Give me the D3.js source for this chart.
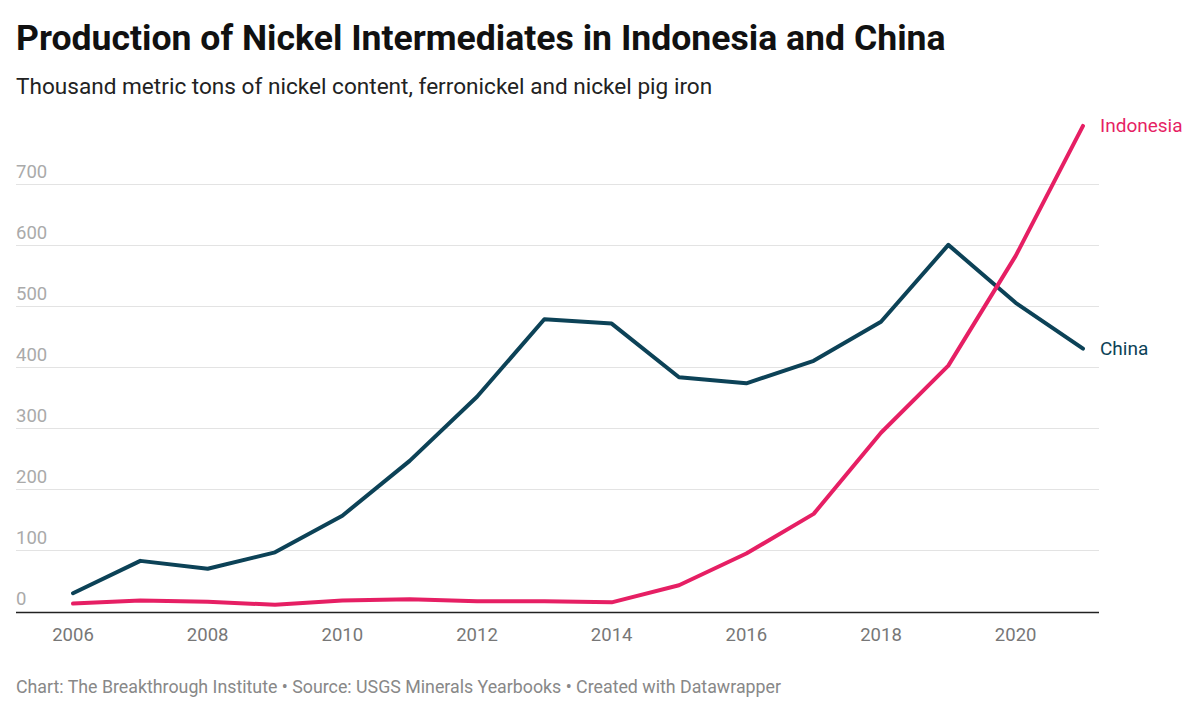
<!DOCTYPE html>
<html><head><meta charset="utf-8">
<script src="https://cdn.jsdelivr.net/npm/d3@7"></script>
<style>
body{margin:0;background:#fff;font-family:Roboto,"Noto Sans",sans-serif;}
</style></head>
<body><svg id="c" width="1200" height="715"></svg>
<script>
const years = [2006,2007,2008,2009,2010,2011,2012,2013,2014,2015,2016,2017,2018,2019,2020,2021];
const china = [30,83,70,97,157,247,352,479,472,384,374,411,475,601,506,431];
const indonesia = [13,18,16,11,18,20,17,17,15,43,95,160,293,403,583,796];
const yTicks = [0,100,200,300,400,500,600,700];
const xTicks = [2006,2008,2010,2012,2014,2016,2018,2020];
const series = [
  {name:"Indonesia", values: indonesia, color:"#e61f64"},
  {name:"China", values: china, color:"#0c4257"}
];

const svg = d3.select("#c");
const x = d3.scaleLinear().domain([2006,2021]).range([73,1083]);
const y = d3.scaleLinear().domain([0,700]).range([611.5,184.5]);
const left = 16, right = 1099;

svg.append("text").attr("x",16).attr("y",50).attr("font-size",35.6).attr("font-weight",700)
  .attr("fill","#111").text("Production of Nickel Intermediates in Indonesia and China");
svg.append("text").attr("x",16).attr("y",94).attr("font-size",22.6).attr("fill","#222")
  .text("Thousand metric tons of nickel content, ferronickel and nickel pig iron");

const g = svg.append("g");
g.selectAll(".grid").data(yTicks.filter(d=>d>0)).join("line")
  .attr("x1",left).attr("x2",right).attr("y1",d=>y(d)).attr("y2",d=>y(d))
  .attr("stroke","#e3e3e3").attr("stroke-width",1);
g.selectAll(".ylab").data(yTicks).join("text")
  .attr("x",16).attr("y",d=>y(d)-7).attr("font-size",18.5).attr("fill","#aaa").text(d=>d);

const line = d3.line().x((d,i)=>x(years[i])).y(d=>y(d));
series.slice().reverse().forEach(s=>{
  g.append("path").attr("d",line(s.values)).attr("fill","none").attr("stroke",s.color)
   .attr("stroke-width",4).attr("stroke-linejoin","round").attr("stroke-linecap","round");
});

g.append("line").attr("x1",left).attr("x2",right).attr("y1",612.5).attr("y2",612.5)
  .attr("stroke","#222").attr("stroke-width",1.5);

g.selectAll(".xlab").data(xTicks).join("text")
  .attr("x",d=>x(d)).attr("y",641).attr("text-anchor","middle").attr("font-size",18.5)
  .attr("fill","#777").text(d=>d);

series.forEach(s=>{
  const v = s.values[s.values.length-1];
  g.append("text").attr("x",1100).attr("y",y(v)+6.5).attr("font-size",19)
   .attr("fill",s.color).text(s.name);
});

svg.append("text").attr("x",16).attr("y",693).attr("font-size",17.8).attr("fill","#888")
  .text("Chart: The Breakthrough Institute • Source: USGS Minerals Yearbooks • Created with Datawrapper");
</script></body></html>
